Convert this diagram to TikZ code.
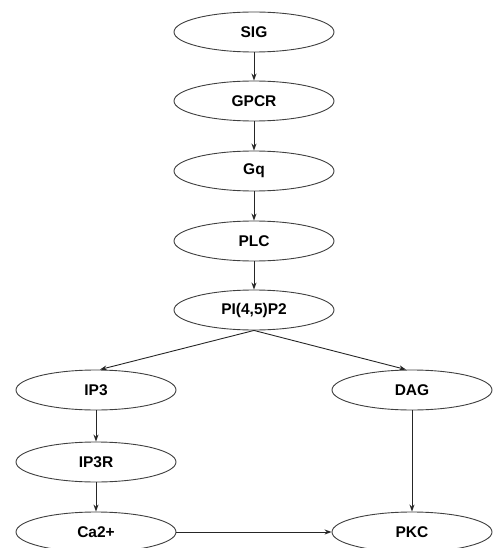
\documentclass[tikz,border=0pt]{standalone}
\usepackage{fontspec}
\setmainfont{Liberation Sans}
\usetikzlibrary{shapes.geometric,arrows.meta}
\begin{document}
\begin{tikzpicture}[x=1pt,y=-1pt,
  species/.style={ellipse,draw=black!75,line width=0.9pt,minimum width=160pt,minimum height=40pt,inner sep=0pt,font=\fontsize{15.5}{17}\selectfont\bfseries},
  link/.style={draw=black!85,line width=0.9pt,-{Stealth[length=7pt,width=5pt]}}]
\clip (0,0) rectangle (493,548);
\useasboundingbox (0,0) rectangle (493,548);
\node[species] (sig)  at (254,32)  {SIG};
\node[species] (gpcr) at (254,101) {GPCR};
\node[species] (gq)   at (254,171) {Gq};
\node[species] (plc)  at (254,241) {PLC};
\node[species] (pip)  at (254,310) {PI(4,5)P2};
\node[species] (ip3)  at (96,390)  {IP3};
\node[species] (dag)  at (412,390) {DAG};
\node[species] (ip3r) at (96,462)  {IP3R};
\node[species] (ca)   at (96,532)  {Ca2+};
\node[species] (pkc)  at (412,532) {PKC};
\draw[link] (sig) -- (gpcr);
\draw[link] (gpcr) -- (gq);
\draw[link] (gq) -- (plc);
\draw[link] (plc) -- (pip);
\draw[link] (pip.south) -- ([xshift=4pt]ip3.north);
\draw[link] (pip.south) -- ([xshift=-6pt]dag.north);
\draw[link] (ip3) -- (ip3r);
\draw[link] (ip3r) -- (ca);
\draw[link] (dag) -- (pkc);
\draw[link] (ca) -- (pkc);
\end{tikzpicture}
\end{document}
